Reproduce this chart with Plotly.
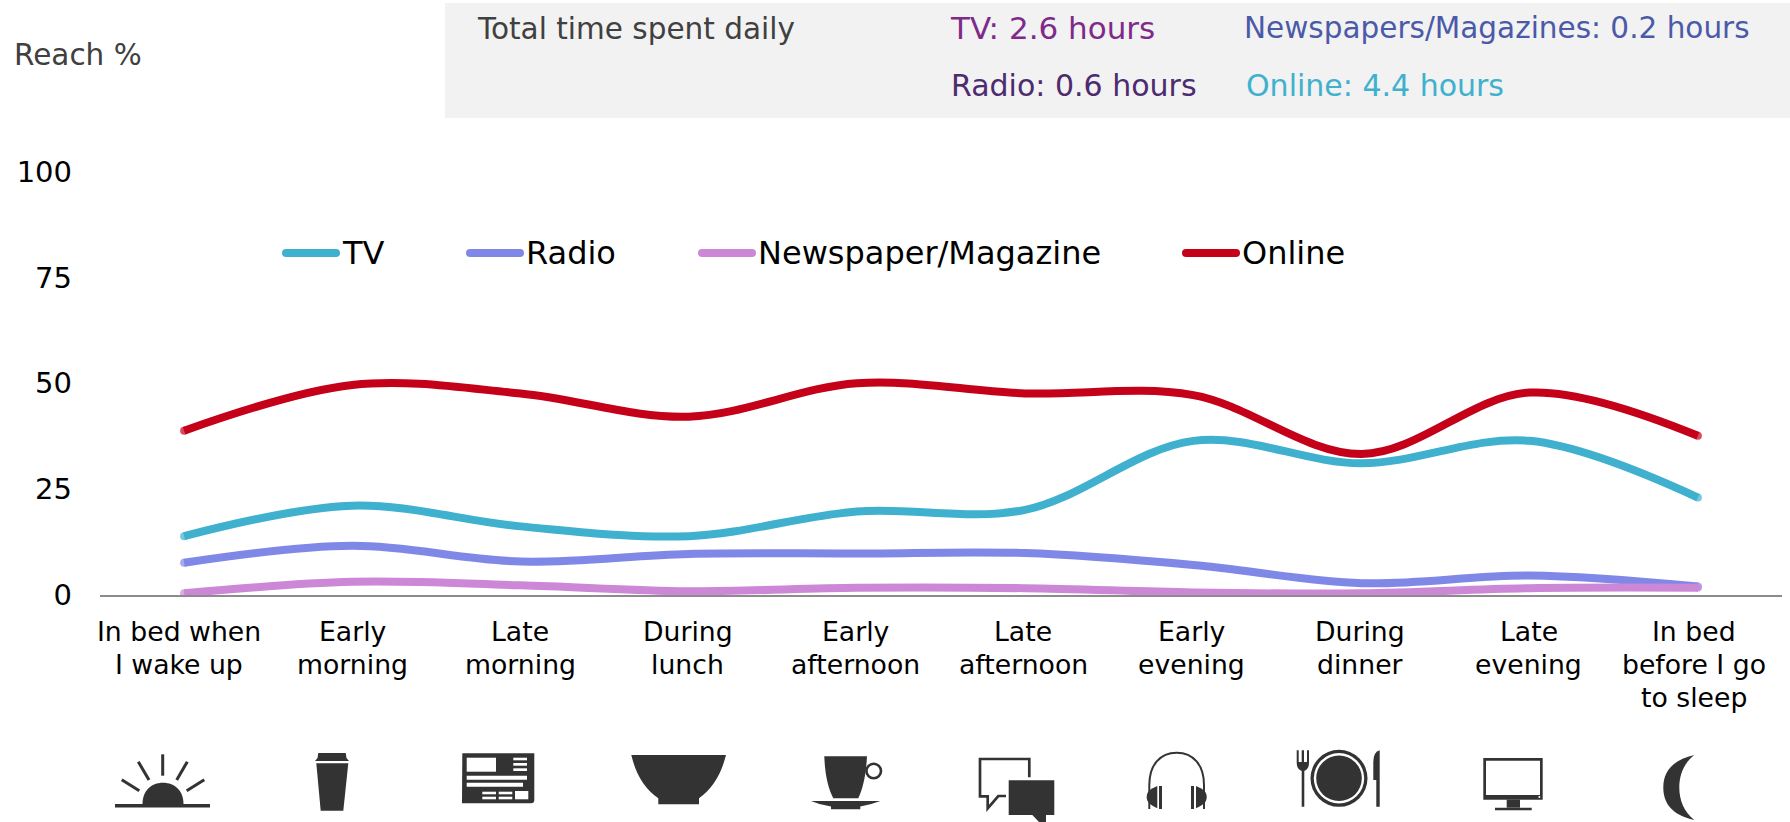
import plotly.graph_objects as go

# Chart data
categories = ["In bed when<br>I wake up", "Early<br>morning", "Late<br>morning", "During<br>lunch",
              "Early<br>afternoon", "Late<br>afternoon", "Early<br>evening", "During<br>dinner",
              "Late<br>evening", "In bed<br>before I go<br>to sleep"]
series_names = ["TV", "Radio", "Newspaper/Magazine", "Online"]
tv = [13.9, 21.1, 16.2, 13.9, 19.7, 20.1, 36.4, 31.1, 36.4, 23.0]
radio = [7.6, 11.6, 7.9, 9.7, 9.8, 9.9, 7.1, 2.8, 4.6, 2.0]
newspaper = [0.4, 3.1, 2.3, 0.9, 1.7, 1.6, 0.6, 0.4, 1.6, 1.7]
online = [38.8, 49.6, 47.6, 42.1, 50.0, 47.6, 47.2, 33.3, 47.8, 37.6]
y_ticks = [0, 25, 50, 75, 100]
reach_title = "Reach %"
header_title = "Total time spent daily"
header_notes = ["TV: 2.6 hours", "Newspapers/Magazines: 0.2 hours", "Radio: 0.6 hours", "Online: 4.4 hours"]

# Styling
W, H = 1790, 822
FONT = "DejaVu Sans"
ICON = "#333333"
LW = 8
SERIES_COLOURS = ["#3FB1CE", "#7F88E6", "#CC88D6", "#C50019"]
KEY_X = [282, 466, 698, 1182]
KEY_TEXT_X = [341, 525, 757, 1241]
NOTE_POS = [(949, 28), (1243, 28), (950, 85), (1245, 85)]
NOTE_COLOURS = ["#7F2A8A", "#4B5AA8", "#4E2A6E", "#3FB1CE"]
NOTE_SIZES = [31, 29.5, 30, 30]
LABEL_SHIFT = [-5, 0, -0.5, -1, -1, -2, -2, -2, -1, -3.5]

fig = go.Figure()
for name, values, colour in zip(series_names, [tv, radio, newspaper, online], SERIES_COLOURS):
    caps = [LW] + [0] * (len(values) - 2) + [LW]
    fig.add_trace(go.Scatter(x=categories, y=values, name=name, mode="lines+markers",
                             line=dict(color=colour, width=LW, shape="spline", smoothing=1.0),
                             marker=dict(color=colour, size=caps, line=dict(width=0)),
                             showlegend=False, cliponaxis=False))

shapes = []
annotations = []


def add_path(d, fill=ICON, line=None, width=0):
    shapes.append(dict(type="path", xref="x2", yref="y2", path=d,
                       fillcolor=fill if fill else "rgba(0,0,0,0)",
                       line=dict(color=line or "rgba(0,0,0,0)", width=width)))


def add_rect(x0, y0, x1, y1, fill=ICON, layer="above"):
    shapes.append(dict(type="rect", xref="x2", yref="y2", x0=x0, y0=y0, x1=x1, y1=y1,
                       fillcolor=fill, line=dict(width=0), layer=layer))


def add_circle(cx, cy, r, fill=ICON, line=None, width=0):
    shapes.append(dict(type="circle", xref="x2", yref="y2", x0=cx - r, y0=cy - r, x1=cx + r, y1=cy + r,
                       fillcolor=fill if fill else "rgba(0,0,0,0)",
                       line=dict(color=line or "rgba(0,0,0,0)", width=width)))


def add_stroke(d, width=3):
    add_path(d, fill=None, line=ICON, width=width)


def add_text(text, x, y, colour, size=29.5, anchor="left"):
    annotations.append(dict(text=text, xref="x2", yref="y2", x=x, y=y, xanchor=anchor, yanchor="middle",
                            showarrow=False, borderpad=0,
                            font=dict(family=FONT, size=size, color=colour)))


# Header band and its notes
add_rect(445, 3, 1790, 118, fill="#F2F2F2", layer="below")
add_text(header_title, 476, 29, "#404040")
add_text(reach_title, 13, 55, "#404040")
for text, (x, y), colour, size in zip(header_notes, NOTE_POS, NOTE_COLOURS, NOTE_SIZES):
    add_text(text, x, y, colour, size=size)

# Hand-placed legend with rounded keys
for name, colour, key_x, text_x in zip(series_names, SERIES_COLOURS, KEY_X, KEY_TEXT_X):
    r = 4
    x1 = key_x + 58
    add_path(f"M{key_x + r},249 L{x1 - r},249 Q{x1},249 {x1},253 Q{x1},257 {x1 - r},257 "
             f"L{key_x + r},257 Q{key_x},257 {key_x},253 Q{key_x},249 {key_x + r},249 Z", fill=colour)
    add_text(name, text_x, 253, "#000000", size=32)

# Category labels, one annotation per line for tight leading
for i, label in enumerate(categories):
    for j, part in enumerate(label.split("<br>")):
        annotations.append(dict(text=part, xref="x", yref="y2", x=i, y=631 + j * 33, xanchor="center",
                                yanchor="middle", showarrow=False, borderpad=0, xshift=LABEL_SHIFT[i],
                                font=dict(family=FONT, size=26.7, color="#000000")))

# Sunrise
add_rect(115, 804, 210, 807.5)
add_path("M142.5,804 C142.5,791 151,782.7 163,782.7 C175,782.7 183.5,791 183.5,804 Z")
add_stroke("M162.7,754.3 L162.7,775.7")
add_stroke("M138.3,761.7 L149,780")
add_stroke("M187.3,761.7 L176.7,780")
add_stroke("M121.7,779.7 L139.3,790.7")
add_stroke("M204.3,779.7 L186.7,790.7")

# Takeaway cup
add_path("M318.3,753 L345.7,753 L346.5,758 L349,761 L315,761 L317.5,758 Z")
add_path("M316.3,763.3 L348.3,763.3 L343.3,810.7 L320.7,810.7 Z")

# Newspaper
add_path("M462.3,753.3 L534.3,753.3 L534.3,800 Q534.3,803.3 531,803.3 L462,803.3 Z")
for x0, y0, x1, y1 in [(466.7, 757.7, 496, 771.7), (513.3, 757.7, 527, 760.3), (513.3, 763, 527, 765.7),
                       (513.3, 768.3, 527, 771), (466.7, 775.7, 527, 779.7), (466.7, 782.7, 523, 786.7),
                       (482.3, 791.7, 496, 794.3), (482.3, 796.7, 496, 799.3), (498.7, 791.7, 512.3, 794.3),
                       (498.7, 796.7, 512.3, 799.3), (515, 791, 528.3, 799.3)]:
    add_rect(x0, y0, x1, y1, fill="#FFFFFF")

# Bowl
add_path("M631.3,755 L726,755 C721,775 712,789 699,798.3 L699,804.3 L658.3,804.3 L658.3,798.3 "
         "C645,789 636,775 631.3,755 Z")

# Coffee cup and saucer
add_path("M824.3,756.3 L867,756.3 C866,775 863,788 858.3,798.3 L833.3,798.3 C828,788 825,775 824.3,756.3 Z")
add_circle(873.7, 771, 7.3, fill=None, line=ICON, width=2.6)
add_path("M811,801 L880.3,801 Q870,805 860.3,806.5 L860.3,809.3 L831,809.3 L831,806.5 Q820,805 811,801 Z")

# Speech bubbles
add_stroke("M1029.3,777.3 L1029.3,759 L980,759 L980,796.3 L987.7,796.3 L987.7,808.3 L998.3,796 L1006,796", width=2.7)
add_path("M1008.7,780.3 L1054.3,780.3 L1054.3,815 L1046,815 L1046,822 L1039,822 L1032.3,815 L1008.7,815 Z")

# Headphones
add_stroke("M1149.3,809 L1149.3,785 C1149.3,765 1160,752.7 1176.7,752.7 "
           "C1193.3,752.7 1204,765 1204,785 L1204,809", width=2)
add_path("M1157.3,786 L1157.3,808.3 C1150,805 1146.7,802 1146.7,797 C1146.7,792 1150,789 1157.3,786 Z")
add_path("M1196,786 L1196,808.3 C1203.4,805 1206.7,802 1206.7,797 C1206.7,792 1203.4,789 1196,786 Z")
add_rect(1159, 786, 1162, 809)
add_rect(1191, 786, 1194, 809)

# Place setting
add_circle(1339, 778.3, 28.5)
add_circle(1339, 778.3, 25.2, fill="#FFFFFF")
add_circle(1339, 778.3, 22.8)
add_path("M1296.7,750.3 L1298.7,750.3 L1298.7,762 L1301.7,762 L1301.7,750.3 L1304,750.3 L1304,762 "
         "L1307,762 L1307,750.3 L1309,750.3 L1309,763 Q1309,769 1304.3,771 L1304.3,806.7 L1301.7,806.7 "
         "L1301.7,771 Q1296.7,769 1296.7,763 Z")
add_path("M1379.7,750.3 L1379.7,806.7 L1376.3,806.7 L1376.3,780 L1373.3,780 L1373.3,762 Q1373.3,752 1379.7,750.3 Z")

# Monitor
add_rect(1483.3, 758, 1542.7, 799.7)
add_rect(1486, 760.7, 1540, 795, fill="#FFFFFF")
add_rect(1506.7, 799.7, 1520, 807.7)
add_rect(1495, 807.7, 1531.7, 810.3)
add_circle(1539.3, 797, 1, fill="#FFFFFF")

# Crescent moon
add_path("M1694.3,755 C1672,760 1663.3,772 1663.3,787.7 C1663.3,803 1672,815 1694.3,820 "
         "C1684,812 1679.3,800 1679.3,787.7 C1679.3,775 1684,763 1694.3,755 Z")

fig.update_layout(
    width=W, height=H, margin=dict(l=0, r=0, t=0, b=0, autoexpand=False), autosize=False,
    paper_bgcolor="#FFFFFF", plot_bgcolor="rgba(0,0,0,0)", showlegend=False,
    shapes=shapes, annotations=annotations,
    xaxis=dict(domain=[100 / W, 1782 / W], type="category", categoryorder="array", categoryarray=categories,
               range=[-0.5, 9.5], showgrid=False, zeroline=False, showline=True,
               linecolor="#8C8C8C", linewidth=1.5, ticks="", showticklabels=False, fixedrange=True),
    yaxis=dict(domain=[1 - 595 / H, 1 - 171.5 / H], range=[0, 100], tickmode="array", tickvals=y_ticks,
               ticktext=[str(v) for v in y_ticks], showgrid=False, zeroline=False, showline=False, ticks="",
               ticklabelstandoff=27, tickfont=dict(family=FONT, size=29, color="#000000"), fixedrange=True),
    xaxis2=dict(domain=[0, 1], range=[0, W], anchor="y2", visible=False, fixedrange=True),
    yaxis2=dict(domain=[0, 1], range=[H, 0], anchor="x2", visible=False, fixedrange=True),
)

fig.write_html("out.html")
